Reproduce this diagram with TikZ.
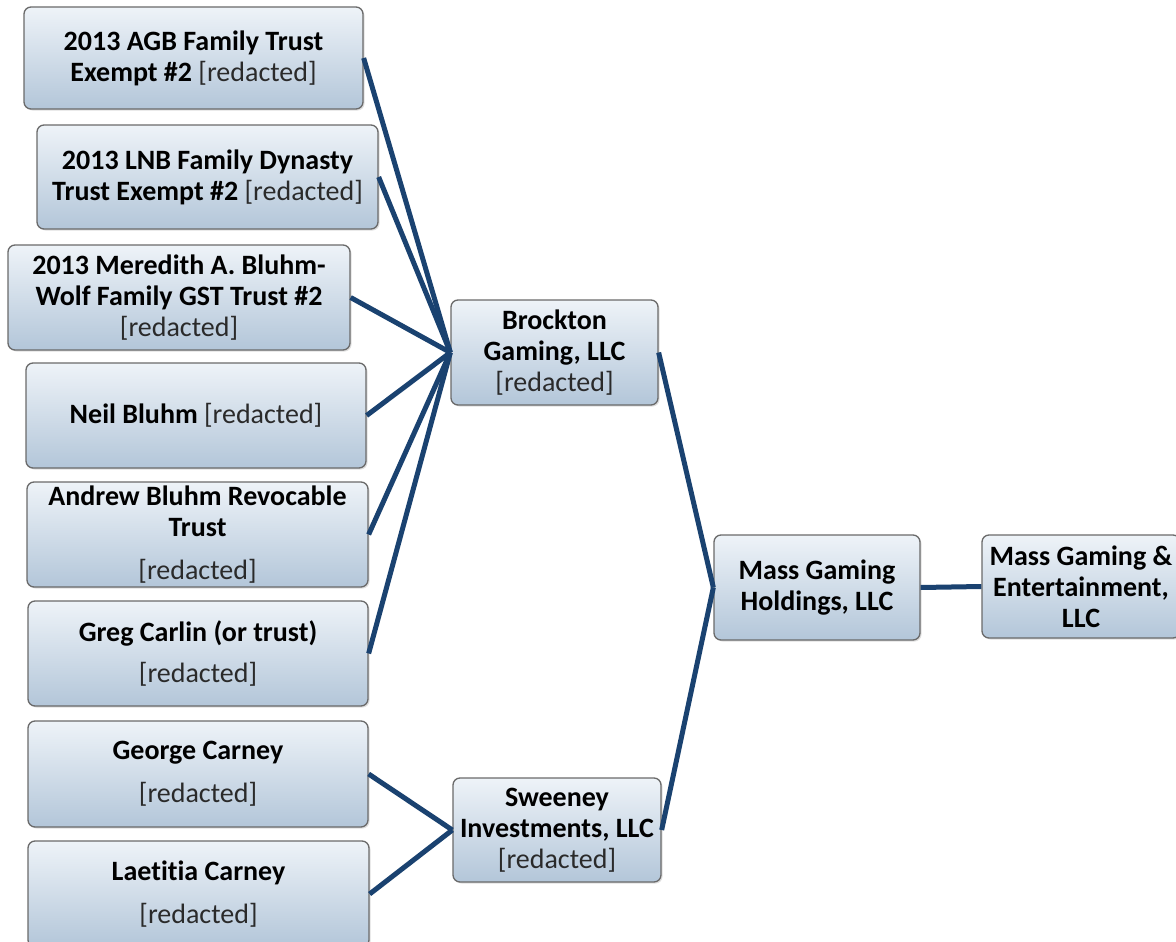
\documentclass[tikz,border=0pt]{standalone}
\usepackage{fontspec}
\setmainfont{Carlito}[Ligatures={NoCommon}]
\usetikzlibrary{shadows}
\definecolor{linec}{HTML}{1A4270}
\definecolor{boxborder}{HTML}{6A6A6A}
\definecolor{boxtop}{HTML}{EEF3F8}
\definecolor{boxbot}{HTML}{B3C6D9}
\definecolor{redc}{HTML}{2A2A2A}
\newcommand{\rdc}{{\mdseries\color{redc}[redacted]}}
\begin{document}
\begin{tikzpicture}[x=1pt,y=-1pt,
  box/.style={draw=boxborder, line width=1.3pt, rounded corners=7pt,
    top color=boxtop, bottom color=boxbot, align=center, inner sep=0pt,
    font=\fontsize{28}{31}\selectfont\bfseries, text=black,
    drop shadow={shadow xshift=1.5pt, shadow yshift=-1.5pt, opacity=0.25}},
  link/.style={draw=linec, line width=5pt}]
\useasboundingbox (0,0) rectangle (1176,942);
\fill[white] (0,0) rectangle (1176,942);

\node[box, minimum width=339pt, minimum height=102pt] (agb) at (193.5,58)
  {2013 AGB Family Trust\\Exempt \#2 \rdc};
\node[box, minimum width=341pt, minimum height=104pt] (lnb) at (207.5,177)
  {2013 LNB Family Dynasty\\Trust Exempt \#2 \rdc};
\node[box, minimum width=342pt, minimum height=105pt] (mer) at (179,297.5)
  {2013 Meredith A. Bluhm-\\Wolf Family GST Trust \#2\\\rdc};
\node[box, minimum width=340pt, minimum height=105pt] (neil) at (196,415.5)
  {Neil Bluhm \rdc};
\node[box, minimum width=341pt, minimum height=105pt] (andrew) at (197.5,534.5)
  {Andrew Bluhm Revocable\\Trust\\[12pt]\rdc};
\node[box, minimum width=340pt, minimum height=105pt] (greg) at (198,653.5)
  {Greg Carlin (or trust)\\[10pt]\rdc};
\node[box, minimum width=340pt, minimum height=106pt] (george) at (198,774)
  {George Carney\\[12pt]\rdc};
\node[box, minimum width=341pt, minimum height=106pt] (laet) at (198.5,894)
  {Laetitia Carney\\[12pt]\rdc};

\node[box, minimum width=207pt, minimum height=105pt] (brock) at (554.5,352.5)
  {Brockton\\Gaming, LLC\\\rdc};
\node[box, minimum width=208pt, minimum height=104pt] (sween) at (557,830)
  {Sweeney\\Investments, LLC\\\rdc};
\node[box, minimum width=206pt, minimum height=105pt] (hold) at (817,587.5)
  {Mass Gaming\\Holdings, LLC};
\node[box, minimum width=198pt, minimum height=103pt] (mge) at (1081,586.5)
  {Mass Gaming \&\\Entertainment,\\LLC};

\foreach \s in {agb,lnb,mer,neil,andrew,greg}
  \draw[link] (\s.east) -- (brock.west);
\foreach \s in {george,laet}
  \draw[link] (\s.east) -- (sween.west);
\draw[link] (brock.east) -- (hold.west);
\draw[link] (sween.east) -- (hold.west);
\draw[link] (hold.east) -- (mge.west);
\end{tikzpicture}
\end{document}
